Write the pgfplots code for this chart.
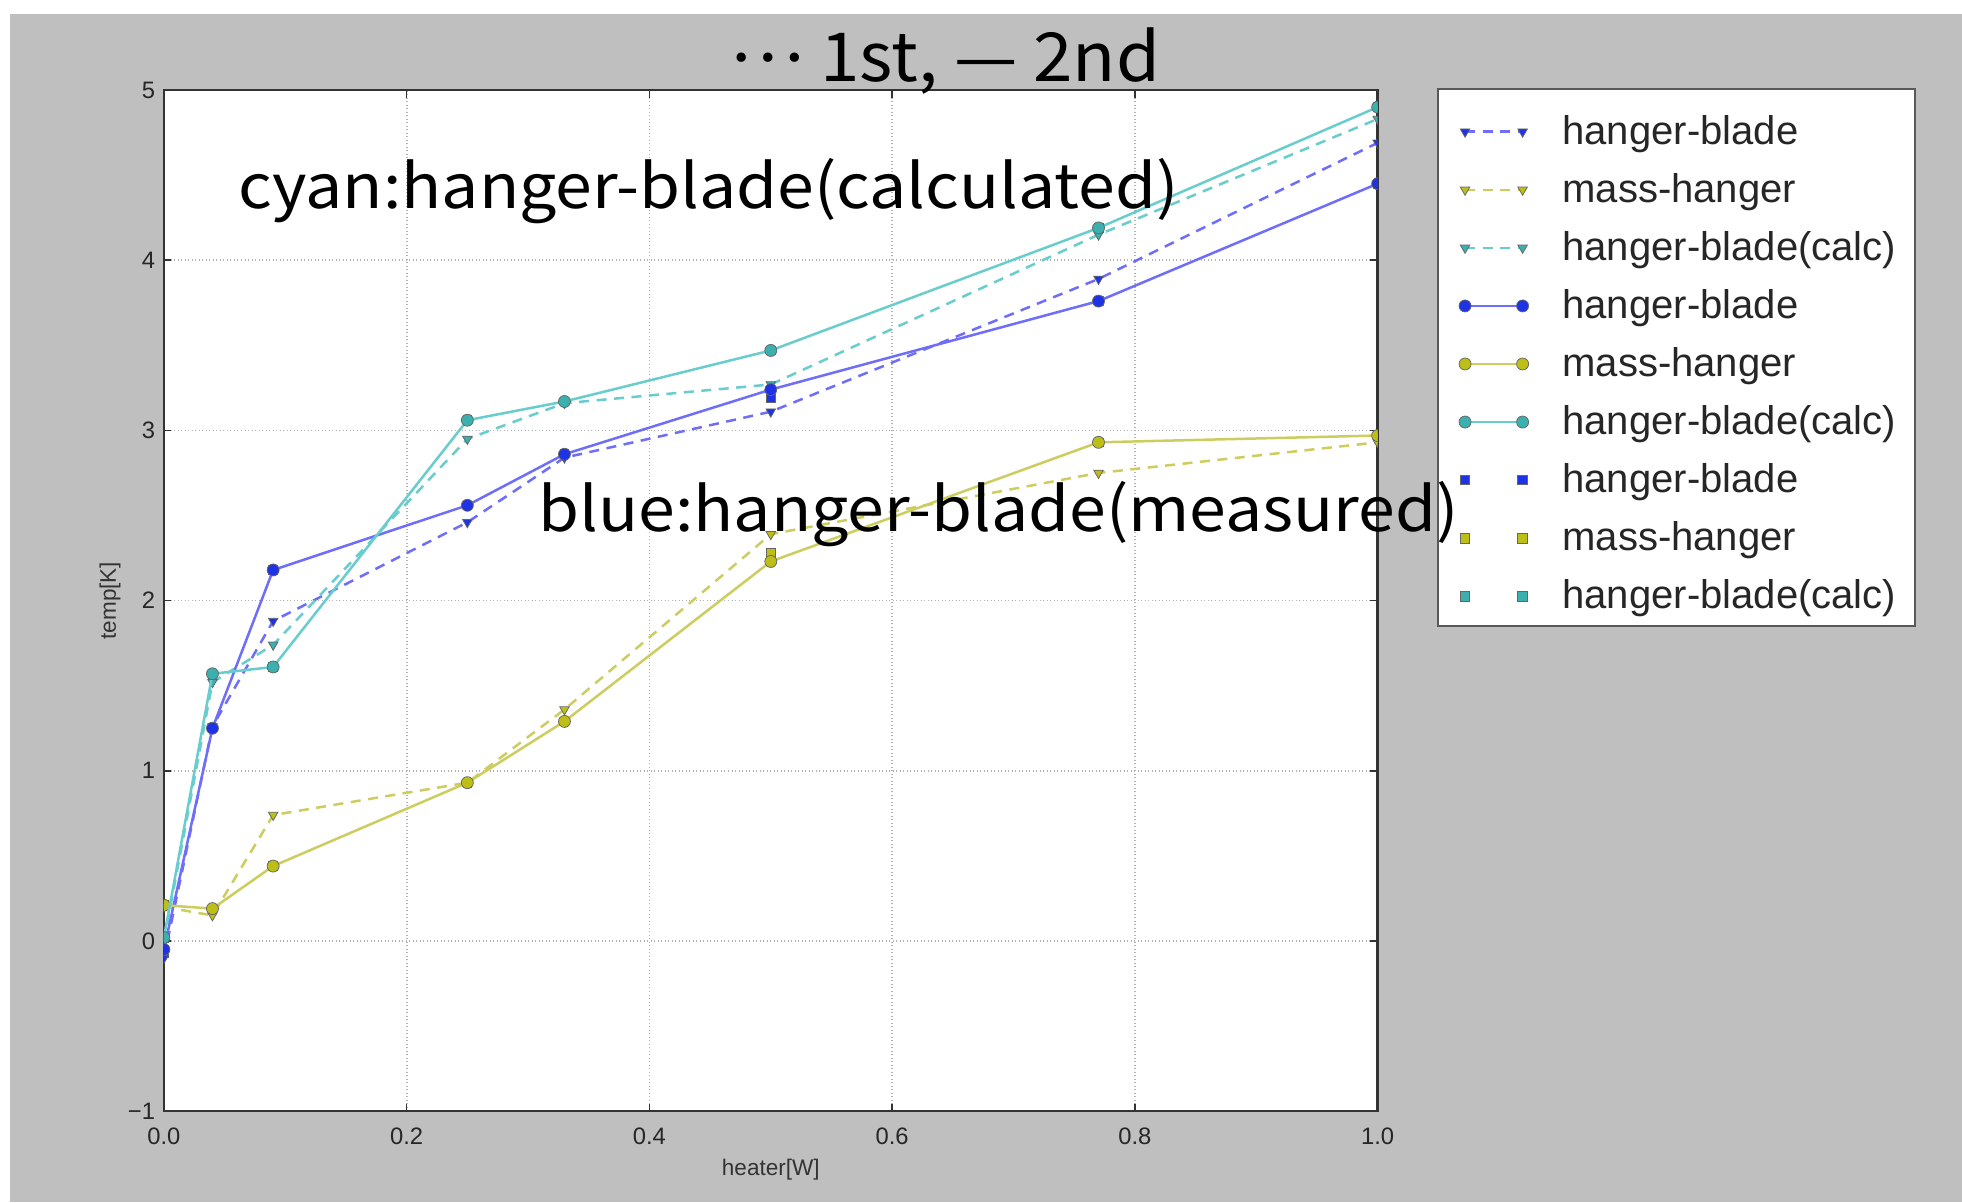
\documentclass[border=0pt]{standalone}
\usepackage{fontspec}
\usepackage{graphicx}
\setmainfont{Liberation Sans}
\newfontfamily\cjk{Noto Sans CJK JP}
\usepackage{pgfplots}
\usepackage{pgfplotstable}
\pgfplotsset{compat=1.18}
\definecolor{bline}{RGB}{110,110,250}
\definecolor{bmark}{RGB}{30,50,230}
\definecolor{yline}{RGB}{205,205,95}
\definecolor{ymark}{RGB}{190,190,25}
\definecolor{cline}{RGB}{105,205,205}
\definecolor{cmark}{RGB}{60,175,175}
\definecolor{bggray}{RGB}{191,191,191}
\pgfplotstableread{
x    bt    yt    ct    bc    yc    cc    bs    ys    cs
0    -0.10 0.20  0.00  -0.05 0.21  0.02  -0.07 0.21  0.02
0.04 1.26  0.15  1.52  1.25  0.19  1.57  1.25  0.19  1.57
0.09 1.88  0.74  1.74  2.18  0.44  1.61  2.18  0.44  1.61
0.25 2.46  0.93  2.95  2.56  0.93  3.06  2.56  0.93  3.06
0.33 2.84  1.36  3.16  2.86  1.29  3.17  2.86  1.29  3.17
0.5  3.11  2.39  3.27  3.24  2.23  3.47  3.19  2.28  3.47
0.77 3.89  2.75  4.15  3.76  2.93  4.19  3.76  2.93  4.19
1.0  4.69  2.93  4.83  4.45  2.97  4.90  4.45  2.97  4.90
}\data
\begin{document}
\begin{tikzpicture}
\useasboundingbox (0,0) rectangle (784pt,480.5pt);
\fill[white] (0,0) rectangle (784pt,480.5pt);
\fill[bggray] (4pt,0) rectangle (784pt,475pt);
\begin{axis}[
  at={(65.5pt,36.5pt)}, anchor=south west,
  scale only axis, width=485pt, height=408pt,
  xmin=0, xmax=1, ymin=-1, ymax=5,
  xtick={0,0.2,0.4,0.6,0.8,1}, xticklabels={0.0,0.2,0.4,0.6,0.8,1.0},
  ytick={-1,0,1,2,3,4,5}, yticklabels={−1,0,1,2,3,4,5},
  axis background/.style={fill=white},
  axis line style={gray!40!black, line width=1pt},
  tick align=inside, major tick length=3pt,
  tick style={gray!40!black, line width=0.6pt},
  grid=major, grid style={densely dotted, gray!60, line width=0.7pt},
  tick label style={font=\fontsize{9.5}{10}\selectfont, text=black!85},
  xticklabel style={inner sep=1.5pt, yshift=-5pt},
  xlabel={heater[W]}, ylabel={temp[K]},
  label style={font=\fontsize{9}{10}\selectfont, text=black!80},
  xlabel style={at={(axis description cs:0.5,-0.0576)}, anchor=center},
  ylabel style={at={(axis description cs:-0.0443,0.5)}, anchor=center},
  clip marker paths=true,
  legend cell align=left,
  legend image code/.code={\path (-4.5pt,0pt); \draw[mark repeat=2,mark phase=1] plot coordinates {(0pt,0pt) (11.5pt,0pt) (23pt,0pt)};},
  legend style={at={(1.0485,1.00245)}, anchor=north west, draw=gray!70!black, line width=0.8pt, fill=white,
    font=\fontsize{16}{16}\selectfont, text=black!85, inner xsep=6pt, inner ysep=3.7pt, row sep=1.6pt, column sep=12pt,
    nodes={inner sep=1.5pt, anchor=west},
    /tikz/every odd column/.append style={yshift=-2.75pt},
    /tikz/every even column/.append style={text height=17.1pt, text depth=0pt}},
  every axis plot/.append style={line width=1pt},
]
% square markers (drawn first, underneath)
\addplot[forget plot, bline, only marks, mark=square*, mark size=1.75pt, mark options={fill=bmark, draw=black!60, line width=0.3pt}] table[x=x,y=bs]{\data};
\addplot[forget plot, yline, only marks, mark=square*, mark size=1.75pt, mark options={fill=ymark, draw=black!60, line width=0.3pt}] table[x=x,y=ys]{\data};
\addplot[forget plot, cline, only marks, mark=square*, mark size=1.75pt, mark options={fill=cmark, draw=black!60, line width=0.3pt}] table[x=x,y=cs]{\data};
% 1st (dashed, triangles)
\addplot[bline, dash pattern=on 4pt off 3pt, mark=triangle*, mark size=2.2pt, mark options={solid, rotate=180, fill=bmark, draw=black!60, line width=0.3pt}] table[x=x,y=bt]{\data};
\addlegendentry{hanger-blade}
\addplot[yline, dash pattern=on 4pt off 3pt, mark=triangle*, mark size=2.2pt, mark options={solid, rotate=180, fill=ymark, draw=black!60, line width=0.3pt}] table[x=x,y=yt]{\data};
\addlegendentry{mass-hanger}
\addplot[cline, dash pattern=on 4pt off 3pt, mark=triangle*, mark size=2.2pt, mark options={solid, rotate=180, fill=cmark, draw=black!60, line width=0.3pt}] table[x=x,y=ct]{\data};
\addlegendentry{hanger-blade(calc)}
% 2nd (solid, circles)
\addplot[bline, mark=*, mark size=2.4pt, mark options={fill=bmark, draw=black!60, line width=0.3pt}] table[x=x,y=bc]{\data};
\addlegendentry{hanger-blade}
\addplot[yline, mark=*, mark size=2.4pt, mark options={fill=ymark, draw=black!60, line width=0.3pt}] table[x=x,y=yc]{\data};
\addlegendentry{mass-hanger}
\addplot[cline, mark=*, mark size=2.4pt, mark options={fill=cmark, draw=black!60, line width=0.3pt}] table[x=x,y=cc]{\data};
\addlegendentry{hanger-blade(calc)}
% legend entries for the square-marker series
\addlegendimage{bline, only marks, mark=square*, mark size=1.9pt, mark options={fill=bmark, draw=black!60, line width=0.3pt}}
\addlegendentry{hanger-blade}
\addlegendimage{yline, only marks, mark=square*, mark size=1.9pt, mark options={fill=ymark, draw=black!60, line width=0.3pt}}
\addlegendentry{mass-hanger}
\addlegendimage{cline, only marks, mark=square*, mark size=1.9pt, mark options={fill=cmark, draw=black!60, line width=0.3pt}}
\addlegendentry{hanger-blade(calc)}
\end{axis}
\node[anchor=base, inner sep=0pt, font=\cjk\fontsize{27}{27}\selectfont] at (377.5pt,447.85pt) {\scalebox{1.05}[1]{\raisebox{0.3em}{…} 1st, — 2nd}};
\node[anchor=base west, inner sep=0pt, font=\cjk\fontsize{24.5}{24.5}\selectfont] at (95pt,397.25pt) {\scalebox{1.08}[1]{cyan:hanger-blade(calculated)}};
\node[anchor=base west, inner sep=0pt, font=\cjk\fontsize{24.5}{24.5}\selectfont] at (215pt,268pt) {\scalebox{1.08}[1]{blue:hanger-blade(measured)}};
\end{tikzpicture}
\end{document}
